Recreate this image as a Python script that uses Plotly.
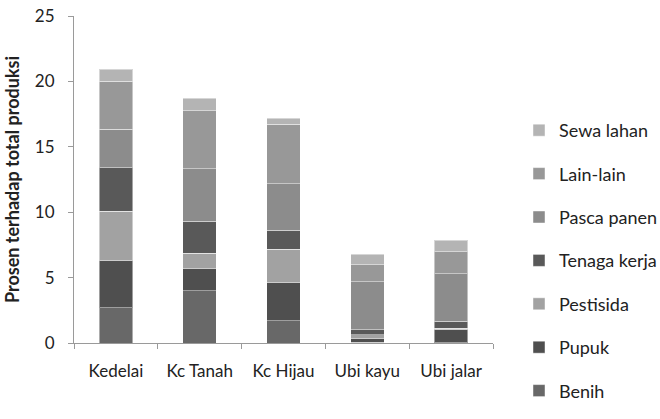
import plotly.graph_objects as go

categories = ["Kedelai", "Kc Tanah", "Kc Hijau", "Ubi kayu", "Ubi jalar"]

benih = [2.70, 3.98, 1.70, 0.05, 0.02]
pupuk = [3.57, 1.75, 2.89, 0.33, 0.98]
pestisida = [3.80, 1.13, 2.57, 0.25, 0.12]
tenaga_kerja = [3.33, 2.44, 1.46, 0.37, 0.55]
pasca_panen = [2.96, 4.03, 3.56, 3.67, 3.64]
lain_lain = [3.67, 4.41, 4.56, 1.30, 1.66]
sewa_lahan = [0.90, 0.97, 0.44, 0.82, 0.88]

series = [
    ("Benih", benih, "#686868"),
    ("Pupuk", pupuk, "#4f4f4f"),
    ("Pestisida", pestisida, "#a2a2a2"),
    ("Tenaga kerja", tenaga_kerja, "#595959"),
    ("Pasca panen", pasca_panen, "#8c8c8c"),
    ("Lain-lain", lain_lain, "#989898"),
    ("Sewa lahan", sewa_lahan, "#b4b4b4"),
]

fig = go.Figure()
n = len(series)
for i, (name, vals, col) in enumerate(series):
    fig.add_trace(go.Bar(
        x=categories, y=vals, name=name, legendgroup=name,
        legendrank=n - i,
        marker=dict(color=col, line=dict(color="rgba(255,255,255,0.45)", width=1)),
    ))

font_family = "Lato, Open Sans, sans-serif"
fig.update_layout(
    barmode="stack",
    bargap=0.6,
    width=660, height=419,
    margin=dict(l=74, r=167, t=16, b=76),
    paper_bgcolor="white", plot_bgcolor="white",
    font=dict(family=font_family, size=17, color="#222222"),
    legend=dict(
        traceorder="grouped",
        tracegroupgap=17,
        xref="container", yref="container",
        x=519 / 660, xanchor="left",
        y=1 - 112 / 419, yanchor="top",
        font=dict(size=18, color="#222222"),
        itemwidth=30,
        maxheight=330,
    ),
    xaxis=dict(
        automargin=False,
        showline=True, linecolor="#9a9a9a", linewidth=1,
        ticks="outside", tickson="boundaries", ticklen=5, tickcolor="#9a9a9a",
        showgrid=False, tickfont=dict(size=17), ticklabelstandoff=13,
    ),
    yaxis=dict(
        automargin=False,
        range=[0, 25], dtick=5,
        showline=True, linecolor="#9a9a9a", linewidth=1,
        ticks="outside", ticklen=5, tickcolor="#9a9a9a",
        showgrid=False, zeroline=False, tickfont=dict(size=17),
        ticklabelstandoff=10,
        title=dict(text="<b>Prosen terhadap total produksi</b>", font=dict(size=18), standoff=10),
    ),
)

fig.write_html("out.html")
